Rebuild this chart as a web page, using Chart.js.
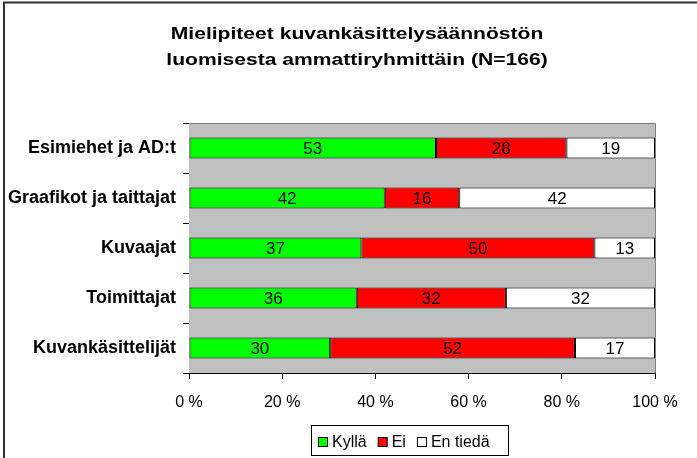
<!DOCTYPE html>
<html>
<head>
<meta charset="utf-8">
<script src="https://cdn.jsdelivr.net/npm/chart.js@4"></script>
<style>
	html, body { margin: 0; padding: 0; background: #fff; }
	#wrap { width: 697px; height: 458px; position: relative; }
</style>
</head>
<body>
<div id="wrap"><canvas id="chart" width="697" height="458"></canvas></div>
<script>
const titleLines = ['Mielipiteet kuvankäsittelysäännöstön', 'luomisesta ammattiryhmittäin (N=166)']
const groups = ['Esimiehet ja AD:t', 'Graafikot ja taittajat', 'Kuvaajat', 'Toimittajat', 'Kuvankäsittelijät']
const kylla = [53, 42, 37, 36, 30]
const ei = [28, 16, 50, 32, 52]
const enTieda = [19, 42, 13, 32, 17]
const seriesNames = ['Kyllä', 'Ei', 'En tiedä']
const seriesColors = ['#00FF00', '#FF0000', '#FFFFFF']
const xTicks = [0, 20, 40, 60, 80, 100]

const FONT = "'Liberation Sans', Arial, sans-serif"

// rows are shown as share of the row total (100 % stacked)
const totals = groups.map((g, i) => kylla[i] + ei[i] + enTieda[i])
const toShare = (arr) => arr.map((v, i) => v / totals[i] * 100)
const raw = [kylla, ei, enTieda]

/**
 * Gray plot background, gray frame on top/right, title, value labels, legend and outer frame.
 */
const decor = {
	id: 'decor',
	beforeDatasetsDraw(chart) {
		const { ctx, chartArea: a } = chart
		ctx.save()
		ctx.fillStyle = '#C0C0C0'
		ctx.fillRect(a.left, a.top, a.right - a.left, a.bottom - a.top)
		ctx.strokeStyle = '#808080'
		ctx.lineWidth = 1
		ctx.beginPath()
		ctx.moveTo(a.left, a.top + 0.5)
		ctx.lineTo(a.right + 0.5, a.top + 0.5)
		ctx.lineTo(a.right + 0.5, a.bottom)
		ctx.stroke()
		ctx.restore()
	},
	afterDatasetsDraw(chart) {
		const { ctx } = chart
		ctx.save()
		ctx.font = '17px ' + FONT
		ctx.fillStyle = '#000'
		ctx.textAlign = 'center'
		ctx.textBaseline = 'middle'
		chart.data.datasets.forEach((ds, d) => {
			chart.getDatasetMeta(d).data.forEach((bar, i) => {
				ctx.fillText(String(raw[d][i]), (bar.x + bar.base) / 2, bar.y + 1)
			})
		})
		ctx.restore()
	},
	afterDraw(chart) {
		const { ctx } = chart
		ctx.save()
		// title (the original text is set wide)
		ctx.fillStyle = '#000'
		ctx.font = 'bold 17px ' + FONT
		ctx.textAlign = 'center'
		ctx.textBaseline = 'alphabetic'
		ctx.save()
		ctx.translate(357, 0)
		ctx.scale(1.24, 1)
		ctx.fillText(titleLines[0], 0, 39)
		ctx.fillText(titleLines[1], 0, 65)
		ctx.restore()

		// legend
		ctx.font = '16px ' + FONT
		ctx.textAlign = 'left'
		ctx.strokeStyle = '#000'
		ctx.lineWidth = 1
		ctx.strokeRect(311.5, 425.5, 197, 30)
		let x = 318
		chart.data.datasets.forEach((ds) => {
			ctx.fillStyle = ds.backgroundColor
			ctx.fillRect(x + 0.5, 437.5, 9, 9)
			ctx.strokeRect(x + 0.5, 437.5, 9, 9)
			ctx.fillStyle = '#000'
			ctx.fillText(ds.label, x + 14, 447)
			x += 14 + ctx.measureText(ds.label).width + 11
		})

		// outer frame
		ctx.strokeStyle = '#333'
		ctx.lineWidth = 2
		ctx.beginPath()
		ctx.moveTo(4, 458)
		ctx.lineTo(4, 2.5)
		ctx.lineTo(697, 2.5)
		ctx.stroke()
		ctx.restore()
	}
}

new Chart(document.getElementById('chart'), {
	type: 'bar',
	data: {
		labels: groups,
		datasets: [toShare(kylla), toShare(ei), toShare(enTieda)].map((data, d) => ({
			label: seriesNames[d],
			data,
			backgroundColor: seriesColors[d],
			borderColor: '#000',
			borderWidth: 1,
			borderSkipped: false,
			barPercentage: 0.42,
			categoryPercentage: 1
		}))
	},
	options: {
		indexAxis: 'y',
		responsive: false,
		animation: false,
		layout: { padding: { top: 123, left: 0, right: 42, bottom: 0 } },
		plugins: {
			legend: { display: false },
			title: { display: false },
			tooltip: { enabled: false }
		},
		scales: {
			x: {
				stacked: true,
				min: 0,
				max: 100,
				afterBuildTicks: (scale) => { scale.ticks = xTicks.map((v) => ({ value: v })) },
				afterFit: (scale) => { scale.height = 85 },
				border: { color: '#000', width: 1 },
				grid: { drawOnChartArea: false, drawTicks: true, tickLength: 6, color: '#000' },
				ticks: {
					callback: (v) => v + ' %',
					color: '#000',
					padding: 14,
					maxRotation: 0,
					font: { family: FONT, size: 16 }
				}
			},
			y: {
				stacked: true,
				afterFit: (scale) => { scale.width = 189 },
				border: { color: '#000', width: 1 },
				grid: { offset: true, drawOnChartArea: false, drawTicks: true, tickLength: 6, color: '#000' },
				ticks: {
					color: '#000',
					padding: 7,
					font: { family: FONT, size: 18, weight: 'bold' }
				}
			}
		}
	},
	plugins: [decor]
})
</script>
</body>
</html>
